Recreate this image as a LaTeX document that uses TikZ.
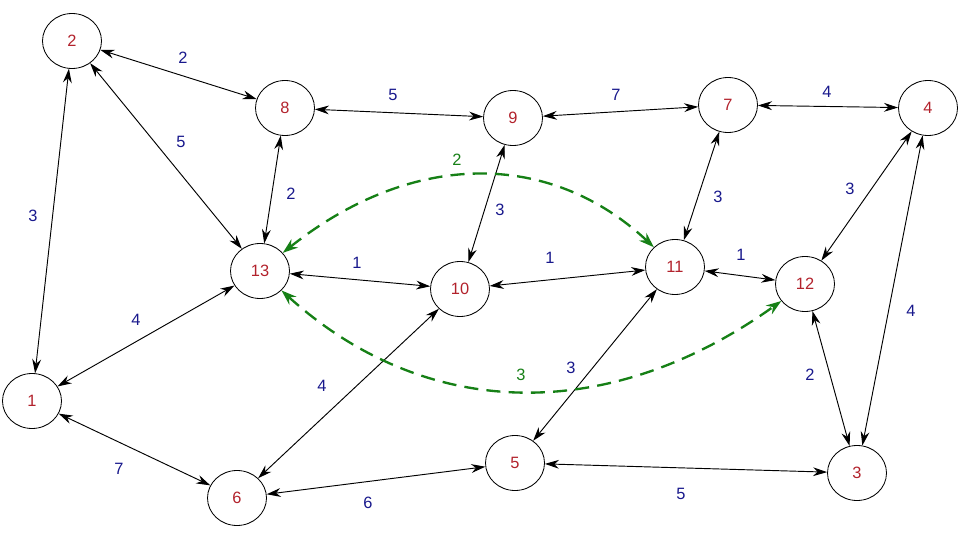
\documentclass[tikz,border=0pt]{standalone}
\usepackage{fontspec}
\setmainfont{Liberation Sans}
\usetikzlibrary{arrows.meta,shapes.geometric}
\definecolor{vtxred}{RGB}{178,34,44}
\definecolor{wtblue}{RGB}{24,24,140}
\definecolor{pathgreen}{RGB}{22,128,22}

\begin{document}
\begin{tikzpicture}[
  x=0.03cm, y=-0.03cm,
  font=\fontsize{14}{16}\selectfont,
  vtx/.style={draw, ellipse, line width=0.7pt, text=vtxred,
              minimum width=1.77cm, minimum height=1.65cm, inner sep=0pt},
  wt/.style={text=wtblue, inner sep=1pt},
  gwt/.style={text=pathgreen, inner sep=1pt},
  arr/.style={{Stealth[length=12pt,width=7.5pt]}-{Stealth[length=12pt,width=7.5pt]}, line width=0.8pt},
  garr/.style={{Stealth[length=13pt,width=9pt]}-{Stealth[length=13pt,width=9pt]},
               line width=2pt, color=pathgreen, dash pattern=on 12pt off 7pt},
]
\useasboundingbox (0,0) rectangle (960,540);

% vertices
\node[vtx] (n2)  at (72,41)   {2};
\node[vtx] (n8)  at (285,108) {8};
\node[vtx] (n9)  at (513,118) {9};
\node[vtx] (n7)  at (728,105) {7};
\node[vtx] (n4)  at (928,108) {4};
\node[vtx] (n13) at (260,271) {13};
\node[vtx] (n10) at (460,289) {10};
\node[vtx] (n11) at (675,267) {11};
\node[vtx] (n12) at (805,284) {12};
\node[vtx] (n1)  at (32,401)  {1};
\node[vtx] (n6)  at (237,498) {6};
\node[vtx] (n5)  at (515,463) {5};
\node[vtx] (n3)  at (857,473) {3};

% edges
\draw[arr] (n2) -- (n8);
\draw[arr] (n2) -- (n1);
\draw[arr] (n2) -- (n13);
\draw[arr] (n8) -- (n9);
\draw[arr] (n8) -- (n13);
\draw[arr] (n9) -- (n7);
\draw[arr] (n9) -- (n10);
\draw[arr] (n7) -- (n4);
\draw[arr] (n7) -- (n11);
\draw[arr] (n4) -- (n12);
\draw[arr] (n4) -- (n3);
\draw[arr] (n13) -- (n10);
\draw[arr] (n10) -- (n11);
\draw[arr] (n11) -- (n12);
\draw[arr] (n13) -- (n1);
\draw[arr] (n1) -- (n6);
\draw[arr] (n6) -- (n10);
\draw[arr] (n6) -- (n5);
\draw[arr] (n5) -- (n11);
\draw[arr] (n5) -- (n3);
\draw[arr] (n12) -- (n3);

% weights
\node[wt] (w28)   at (183,58)  {2};
\node[wt] (w21)   at (33,216)  {3};
\node[wt] (w213)  at (181,142) {5};
\node[wt] (w89)   at (393,95)  {5};
\node[wt] (w813)  at (291,194) {2};
\node[wt] (w97)   at (616,95)  {7};
\node[wt] (w910)  at (500,210) {3};
\node[wt] (w74)   at (827,92)  {4};
\node[wt] (w711)  at (718,197) {3};
\node[wt] (w412)  at (850,189) {3};
\node[wt] (w43)   at (911,311) {4};
\node[wt] (w1310) at (357,263) {1};
\node[wt] (w1011) at (550,258) {1};
\node[wt] (w1112) at (741,255) {1};
\node[wt] (w131)  at (136,320) {4};
\node[wt] (w16)   at (119,469) {7};
\node[wt] (w610)  at (322,386) {4};
\node[wt] (w65)   at (368,503) {6};
\node[wt] (w511)  at (571,368) {3};
\node[wt] (w53)   at (681,494) {5};
\node[wt] (w123)  at (810,375) {2};

% shortcut paths
\draw[garr] (n13) .. controls (412,150) and (550,150) .. (n11);
\draw[garr] (n13) .. controls (428,423) and (611,423) .. (n12);
\node[gwt] (g1311) at (457,160) {2};
\node[gwt] (g1312) at (521,375) {3};
\end{tikzpicture}
\end{document}
